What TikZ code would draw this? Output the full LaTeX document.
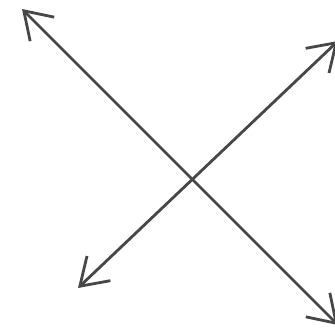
\documentclass[tikz,border=0pt]{standalone}
\usetikzlibrary{arrows.meta}
\begin{document}
\begin{tikzpicture}[x=1pt,y=-1pt,
  arr/.style={draw=black!72, line width=2.8pt, line cap=round,
    {Straight Barb[length=26pt,width=34pt,line width=2.8pt]}-{Straight Barb[length=26pt,width=34pt,line width=2.8pt]}}]
\useasboundingbox (0,0) rectangle (334,334);
\coordinate (tl) at (22,9);
\coordinate (br) at (338,325);
\coordinate (bl) at (78,288);
\coordinate (tr) at (338,41);
\draw[arr] (tl) -- (br);
\draw[arr] (bl) -- (tr);
\end{tikzpicture}
\end{document}
